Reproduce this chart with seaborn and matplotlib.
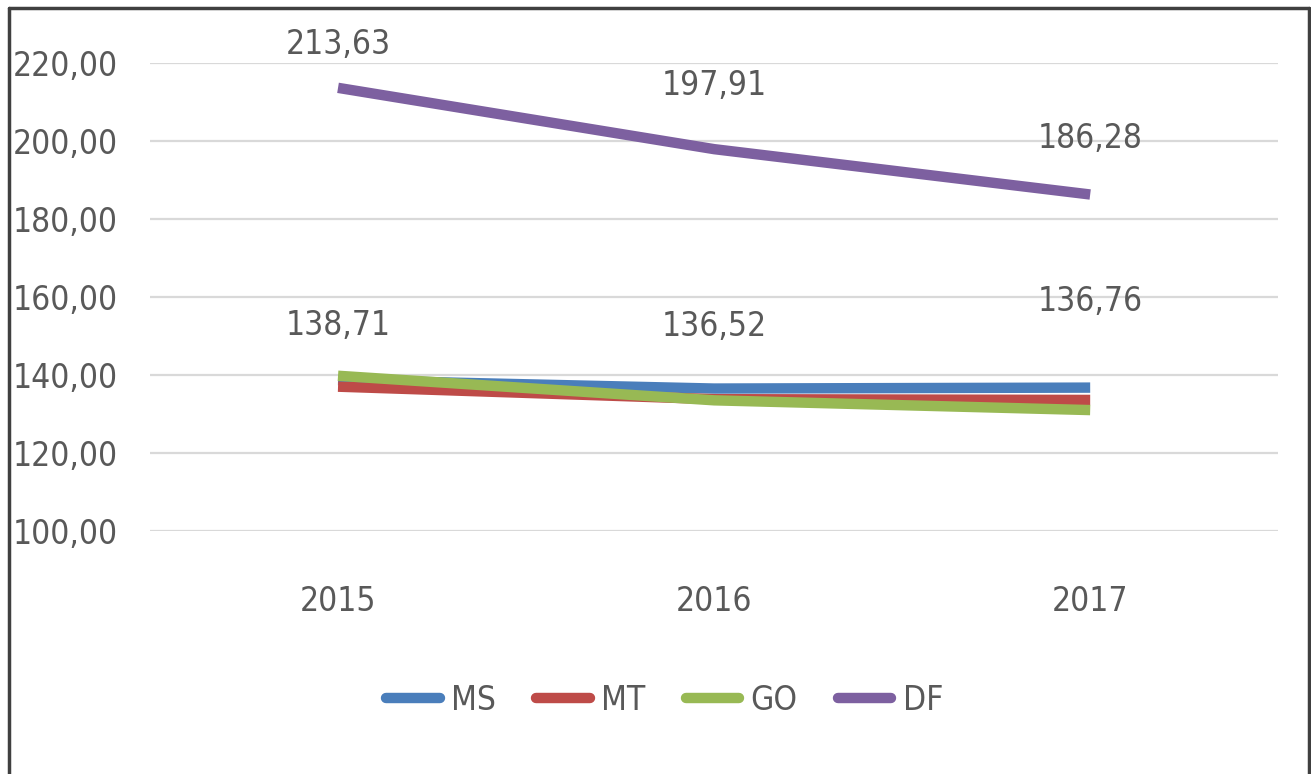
import matplotlib
matplotlib.use("Agg")
import matplotlib.pyplot as plt
import seaborn as sns
import pandas as pd
from matplotlib.lines import Line2D
from matplotlib import font_manager as fm

years = ["2015", "2016", "2017"]
ms = [138.71, 136.52, 136.76]
mt = [137.0, 133.8, 133.6]
go = [139.8, 133.5, 131.0]
df_vals = [213.63, 197.91, 186.28]
series_names = ["MS", "MT", "GO", "DF"]
y_ticks = [100, 120, 140, 160, 180, 200, 220]

colors = {"MS": "#4A7EBB", "MT": "#BE4B48", "GO": "#98B954", "DF": "#7D60A0"}

data = pd.DataFrame({
    "year": years * 4,
    "value": ms + mt + go + df_vals,
    "serie": sum([[s] * 3 for s in series_names], []),
})
data["x"] = data["year"].map({y: i for i, y in enumerate(years)})

sns.set_theme(style="white")
plt.rcParams["font.family"] = ["DejaVu Sans"]
plt.rcParams["font.stretch"] = "condensed"
cond = any("Condensed" in f.fname for f in fm.fontManager.ttflist)
FS = 24 if cond else 20

fig = plt.figure(figsize=(13.11, 7.74), dpi=100)
ax = fig.add_axes([0.1144, 0.314, 0.8606, 0.6046])

sns.lineplot(data=data, x="x", y="value", hue="serie", hue_order=series_names,
             palette=colors, linewidth=7.5, ax=ax, legend=False, sort=False)
for ln in ax.lines:
    ln.set_solid_capstyle("butt")

ax.set_xlim(-0.5, 2.5)
ax.set_ylim(100, 220)
ax.set_yticks(y_ticks)
ax.set_yticklabels([f"{v:.2f}".replace(".", ",") for v in y_ticks])
ax.set_xticks(range(len(years)))
ax.set_xticklabels(years)
ax.set_xlabel("")
ax.set_ylabel("")
ax.grid(axis="y", color="#D9D9D9", linewidth=1.6)
ax.set_axisbelow(True)
for sp in ax.spines.values():
    sp.set_visible(False)
ax.tick_params(axis="both", length=0, labelsize=FS, colors="#595959")
ax.tick_params(axis="y", pad=23)
ax.tick_params(axis="x", pad=39)

# data labels (offsets in pixels)
df_off = [43, 64, 56]
ms_off = [55, 62, 86]
for i, v in enumerate(df_vals):
    ax.annotate(f"{v:.2f}".replace(".", ","), (i, v), xytext=(0, df_off[i]),
                textcoords="offset pixels", ha="center", va="center",
                fontsize=FS, color="#595959", annotation_clip=False)
for i, v in enumerate(ms):
    ax.annotate(f"{v:.2f}".replace(".", ","), (i, v), xytext=(0, ms_off[i]),
                textcoords="offset pixels", ha="center", va="center",
                fontsize=FS, color="#595959", annotation_clip=False)

handles = [Line2D([0], [0], color=colors[s], linewidth=7.5, solid_capstyle="round")
           for s in series_names]
fig.legend(handles, series_names, loc="center", bbox_to_anchor=(0.507, 0.095),
           ncol=4, frameon=False, fontsize=FS, handlelength=1.6,
           handletextpad=0.35, columnspacing=1.2, labelcolor="#595959")

# outer border (left, top, right)
for xs, ys in [([0.007, 0.007], [0, 0.99]), ([0.007, 0.9985], [0.99, 0.99]),
               ([0.9985, 0.9985], [0, 0.99])]:
    fig.add_artist(Line2D(xs, ys, transform=fig.transFigure, color="#404040", linewidth=2.5))

fig.savefig("out.png", dpi=100)
